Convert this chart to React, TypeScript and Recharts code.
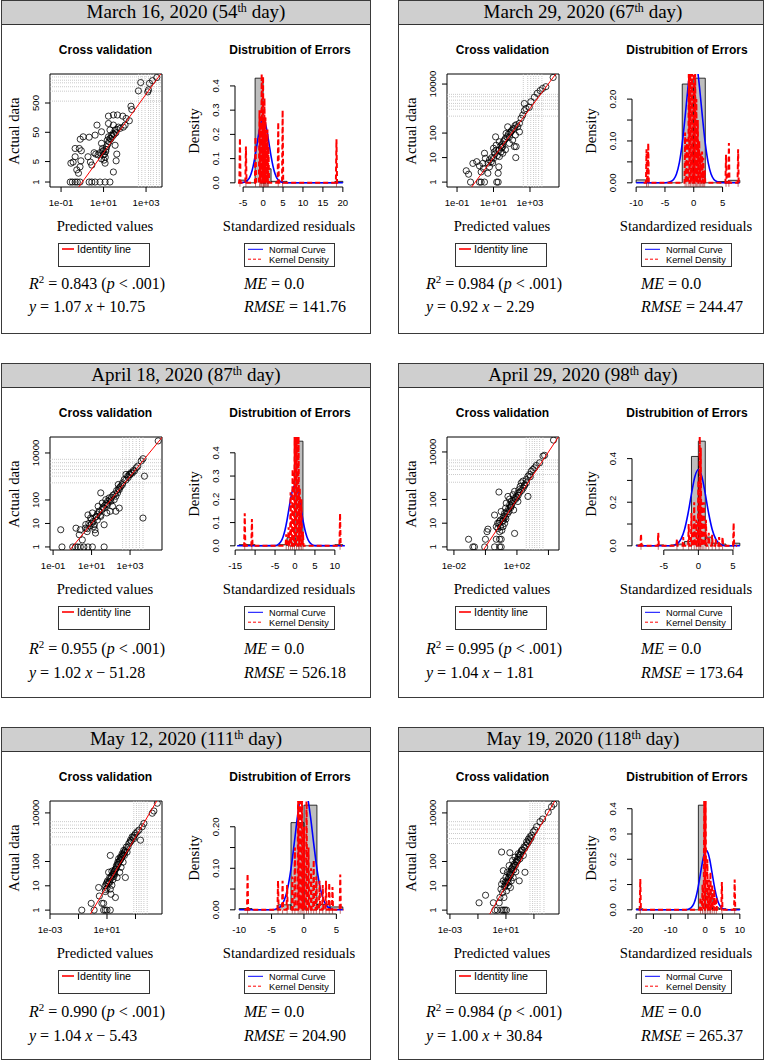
import React from "react";
import {
  ScatterChart,
  Scatter,
  ComposedChart,
  Area,
  Line,
  XAxis,
  YAxis,
  ReferenceLine,
  ReferenceArea,
} from "recharts";

type Pair = [number, number];
type Bin = [number, number, number];

const SANS = "'Liberation Sans', Arial, Helvetica, sans-serif";
const SERIF = "'Liberation Serif', 'Times New Roman', serif";

// ---- headers and statistics ----
const panelDates = ["March 16, 2020", "March 29, 2020", "April 18, 2020", "April 29, 2020", "May 12, 2020", "May 19, 2020"];
const panelDays = ["54", "67", "87", "98", "111", "118"];
const rSquared = [0.843, 0.984, 0.955, 0.995, 0.99, 0.984];
const slopes = [1.07, 0.92, 1.02, 1.04, 1.04, 1.0];
const intercepts = [10.75, -2.29, -51.28, -1.81, -5.43, 30.84];
const meanErrors = [0, 0, 0, 0, 0, 0];
const rmse = [141.76, 244.47, 526.18, 173.64, 204.9, 265.37];

// ---- cross validation: [predicted, actual] ----
const mar16Points: Pair[] = [
  [0.27, 1], [0.34, 1], [0.46, 1], [0.58, 1], [0.78, 1], [2.1, 1], [2.8, 1], [4, 1], [6.8, 1], [11.8, 1], [20, 1],
  [0.29, 4.4], [0.37, 4.8], [0.46, 7.3], [0.55, 2.6], [0.66, 2], [0.78, 3.3], [0.86, 5.3], [0.46, 14], [0.72, 14], [0.9, 11.7], [0.8, 29], [1.1, 35],
  [1.85, 7.3], [2.4, 4.8], [2.8, 3.8], [3.6, 10], [4.3, 9], [5.5, 8.5], [6.8, 10], [2.1, 34], [4, 40], [4.9, 88], [8, 52], [8, 21], [9, 14], [9.7, 8.5], [10.5, 5.6], [11.8, 4.4], [8, 6.2],
  [12.7, 11], [14, 16], [15, 27], [17, 35], [20, 60], [17, 100], [29, 88], [17, 178], [29, 195], [20, 31], [24, 40], [29, 46], [35, 18], [42, 9], [39, 5.3], [29, 2.2],
  [35, 60], [42, 63], [50, 75], [60, 68], [45, 195], [80, 178], [85, 75], [103, 88], [115, 148], [163, 124], [195, 390], [212, 300],
  [437, 1300], [560, 2500], [1200, 1200], [1450, 2350], [1300, 1400], [3200, 3700], [2000, 2900],
  [10, 12], [11, 9], [13, 13], [12, 7], [9, 11], [16, 20], [18, 24], [22, 30], [26, 36], [31, 42], [38, 48],
];
const mar29Points: Pair[] = [
  [0.32, 2.9], [0.43, 2.1], [0.55, 1], [0.74, 5.8], [1.2, 6.8], [1.7, 4.6], [2.1, 2.6], [2.6, 5.8], [1.7, 1], [2.1, 1], [3.2, 1], [15, 1], [18, 1],
  [4.9, 2.3], [2.8, 3.6], [3.2, 15], [3.6, 9.3], [6, 4.2], [7.5, 6.8], [10, 9.3], [11, 17], [10, 24], [14, 32], [18, 2.3], [19.5, 4.2], [21, 11], [26, 17],
  [13, 70], [21, 44], [32, 28], [40, 52], [49, 97], [60, 180], [74, 70], [74, 38], [91, 112], [112, 52], [140, 28], [158, 83], [166, 10], [174, 28],
  [213, 180], [263, 250], [324, 400], [140, 155], [32, 15], [45, 21], [263, 112], [400, 540], [490, 820], [600, 1000], [490, 1600], [910, 1120],
  [1120, 1900], [1740, 2900], [3600, 5400], [4900, 6600], [7400, 7800], [18600, 18600], [2500, 4200],
  [20, 20], [25, 30], [30, 35], [35, 45], [45, 60], [55, 70], [65, 90], [80, 100], [100, 130], [120, 150], [150, 200], [180, 220],
  [12, 14], [16, 12], [8, 10], [6, 8], [5, 6], [9, 6], [14, 20], [28, 25],
];
const apr18Points: Pair[] = [
  [0.25, 5.4], [0.29, 1], [1.05, 1], [1.45, 1], [1.9, 1], [2.6, 1], [4, 1], [6.5, 1], [11, 1], [45, 1],
  [1.55, 6.3], [2.6, 5.4], [2.3, 3.3], [3.3, 2], [4.8, 6.3], [5.9, 4.5], [7.2, 10], [8.9, 17], [6.5, 23], [11, 28], [13, 7.4], [16, 3.9], [15, 5.4],
  [20, 14], [24, 33], [22, 54], [30, 200], [36, 74], [30, 20], [45, 45], [55, 103], [62, 28], [67, 63], [82, 122], [45, 8.8], [92, 33], [122, 54],
  [100, 88], [150, 103], [183, 144], [224, 200], [275, 275], [245, 455], [183, 33], [275, 45], [338, 390], [410, 535], [500, 740], [616, 1230],
  [760, 1030], [920, 1230], [1130, 1440], [1690, 1690], [2090, 2340], [2530, 2760], [3800, 4570], [4700, 5700], [5600, 1030], [4700, 17], [29000, 32700],
  [10, 10], [12, 12], [15, 18], [18, 20], [25, 30], [35, 40], [40, 50], [50, 60], [60, 70], [70, 90], [90, 100], [110, 130], [130, 160], [160, 180],
  [200, 250], [250, 300], [300, 350], [8, 8], [6, 6], [5, 9], [10, 15], [14, 9], [20, 25], [28, 22], [400, 450], [600, 700], [800, 900], [1000, 1200],
  [1300, 1400], [1500, 1800],
];
const apr29Points: Pair[] = [
  [0.085, 2.1], [0.16, 1], [0.2, 1], [0.9, 1], [1, 2.1], [1.26, 4.4], [1.44, 5.6], [3.8, 1], [7.9, 1], [10, 1], [4.9, 2.1], [7.9, 2.1], [10, 2.1],
  [3.8, 22], [4.9, 7.1], [6.2, 6], [7.2, 9.8], [7.9, 4.4], [9.1, 13.6], [10, 31], [7.2, 205], [13, 16], [13, 7.1], [16.5, 9.8], [16.5, 26], [19, 43],
  [21, 70], [27, 134], [31, 31], [38, 50], [34, 103], [44, 82], [56, 158], [71, 3.7], [62, 36], [71, 219], [91, 134], [115, 186], [134, 257], [115, 82],
  [162, 355], [190, 500], [240, 590], [310, 420], [390, 690], [500, 134], [500, 950], [630, 1120], [810, 1550], [1040, 1830], [1320, 2150], [1700, 2700],
  [2750, 3500], [4500, 6700], [5700, 7200], [21000, 31500],
  [12, 12], [15, 20], [18, 18], [22, 30], [25, 25], [30, 40], [35, 60], [40, 45], [50, 70], [60, 90], [80, 100], [100, 120], [120, 150], [150, 200],
  [200, 240], [250, 300], [300, 380], [8, 12], [6, 10], [9, 7], [11, 5], [14, 13], [20, 15], [45, 55], [70, 110], [400, 500], [700, 900],
];
const may12Points: Pair[] = [
  [0.17, 1], [0.78, 1.9], [1.25, 1], [2.6, 8.5], [2.9, 3.8], [4.4, 1.9], [5.8, 1], [7.6, 1], [10, 1], [17, 1], [5.8, 1.9], [7.6, 5.8], [7.6, 10],
  [10, 13.8], [13, 36], [15.5, 22], [17, 7.3], [19, 4.5], [22, 10.6], [26, 18], [29.5, 31], [39, 3.3], [39, 49], [46, 68], [51, 22], [57, 94], [66, 130],
  [78, 36], [87, 150], [97, 58], [17, 178], [115, 209], [135, 94], [150, 288], [195, 22], [166, 178], [228, 395], [256, 245], [336, 545], [442, 755],
  [580, 1030], [760, 875], [1000, 1420], [1310, 1660], [1740, 1960], [2240, 755], [2950, 2700], [3900, 3700], [15000, 9700], [19500, 12000], [34000, 25000],
  [12, 12], [14, 15], [18, 20], [20, 25], [24, 28], [28, 35], [33, 40], [36, 45], [42, 50], [48, 60], [55, 75], [62, 80], [70, 100], [80, 110], [90, 120],
  [100, 140], [110, 160], [125, 180], [140, 200], [160, 230], [180, 260], [200, 300], [10, 8], [8, 7], [11, 16], [16, 14], [30, 24], [9, 12], [22, 40],
  [35, 30], [300, 400], [400, 600], [500, 700], [700, 1000], [850, 1200],
];
const may19Points: Pair[] = [
  [0.12, 2], [0.35, 4.1], [1.26, 2], [1.6, 1], [2.4, 1], [4.9, 1], [6.5, 1], [8.5, 1], [11, 1], [3.3, 2], [3.7, 3.3], [4.4, 7.3], [4.9, 11.7], [5.8, 5.3],
  [6.5, 16], [6.5, 42], [7.2, 3.3], [8.5, 10], [10, 22], [11, 6.2], [12.6, 36], [14.7, 13.8], [17, 68], [19, 26], [21, 8.5], [25, 49], [30, 110], [33, 22],
  [37, 68], [44, 151], [51, 38], [58, 94], [76, 209], [89, 16], [100, 129], [132, 288], [174, 178], [195, 395], [229, 36], [269, 465], [300, 645], [400, 830],
  [515, 1030], [675, 1200], [890, 1660], [1170, 1960], [1550, 2700], [2700, 4360], [4200, 5600], [10500, 10700], [18000, 18000], [27000, 23000], [4.9, 245], [19, 230],
  [8, 9], [9, 14], [10, 12], [12, 15], [14, 18], [16, 22], [18, 30], [20, 35], [22, 28], [26, 40], [28, 55], [32, 60], [36, 45], [40, 80], [48, 70], [55, 100],
  [62, 120], [70, 110], [80, 150], [90, 180], [110, 200], [120, 250], [150, 300], [220, 350], [350, 550], [450, 700], [600, 900], [15, 10], [24, 16],
];

// dotted guide lines in the cross-validation plots
const mar16GridX = [440, 630, 900, 1300, 1650, 2200, 3100, 4200];
const mar16GridY = [580, 1270, 1800, 2450, 3000, 3900];
const mar29GridX = [430, 750, 1100, 1570, 2100, 2970, 4500];
const mar29GridY = [490, 930, 1260, 1620, 2200, 3030, 3800];
const apr18GridX = [410, 620, 920, 1380, 2090, 3100, 4700];
const apr18GridY = [535, 1030, 1430, 1990, 2770, 3860, 5370];
const apr29GridX = [390, 630, 930, 1320, 1860, 2750, 4470];
const apr29GridY = [530, 1120, 1820, 2530, 3530, 4570];
const may12GridX = [760, 1170, 1740, 2510, 3890, 6620];
const may12GridY = [490, 1030, 1560, 2290, 3160, 4370];
const may19GridX = [520, 800, 1170, 1740, 2700, 5200];
const may19GridY = [550, 880, 1420, 2150, 3160, 4370];

// axis ticks of the cross-validation plots
const xTicksWide = [0.1, 10, 1000];
const xLabelsWide = ["1e-01", "1e+01", "1e+03"];
const xTicksApr29 = [0.01, 1, 100, 10000];
const xLabelsApr29 = ["1e-02", "", "1e+02", ""];
const xTicksMay = [0.001, 0.1, 10, 1000];
const xLabelsMay = ["1e-03", "", "1e+01", ""];
const yTicksMar16 = [1, 5, 50, 500];
const yLabelsMar16 = ["1", "5", "50", "500"];
const yTicksDecades = [1, 10, 100, 10000];
const yLabelsDecades = ["1", "10", "100", "10000"];
const identityEnds = [0.0001, 1000000];

// ---- distribution of errors: histogram bins [from, to, density] ----
const mar16Bins: Bin[] = [
  [-6, -4, 0.011], [-4, -2, 0], [-2, 0, 0.432], [0, 2, 0.058], [2, 4, 0.006], [4, 6, 0.006], [6, 8, 0],
  [8, 10, 0], [10, 12, 0], [12, 14, 0], [14, 16, 0], [16, 18, 0], [18, 20, 0.006],
];
const mar29Bins: Bin[] = [
  [-10, -8, 0.007], [-8, -6, 0], [-6, -4, 0], [-4, -2, 0], [-2, 0, 0.236], [0, 2, 0.25], [2, 4, 0], [4, 6, 0.003], [6, 8, 0.006],
];
const apr18Bins: Bin[] = [
  [-14, -12, 0.005], [-12, -10, 0.005], [-10, -8, 0], [-8, -6, 0], [-6, -4, 0], [-4, -2, 0.005], [-2, 0, 0.035],
  [0, 2, 0.45], [2, 4, 0], [4, 6, 0], [6, 8, 0], [8, 10, 0], [10, 12, 0.005],
];
const apr29Bins: Bin[] = [
  [-9, -8, 0.004], [-8, -7, 0], [-7, -6, 0], [-6, -5, 0.004], [-5, -4, 0], [-4, -3, 0.004], [-3, -2, 0.008], [-2, -1, 0.02],
  [-1, 0, 0.41], [0, 1, 0.48], [1, 2, 0.04], [2, 3, 0.012], [3, 4, 0.008], [4, 5, 0], [5, 6, 0.012],
];
const may12Bins: Bin[] = [
  [-10, -8, 0.003], [-8, -6, 0], [-6, -4, 0], [-4, -2, 0.012], [-2, 0, 0.21], [0, 2, 0.252], [2, 4, 0.013], [4, 6, 0.007],
];
const may19Bins: Bin[] = [
  [-20, -18, 0.004], [-18, -16, 0], [-16, -14, 0], [-14, -12, 0], [-12, -10, 0], [-10, -8, 0], [-8, -6, 0], [-6, -4, 0],
  [-4, -2, 0], [-2, 0, 0.414], [0, 2, 0.066], [2, 4, 0.008], [4, 6, 0.004], [6, 8, 0], [8, 10, 0.004],
];

// normal curves [residual, density]
const mar16Normal: Pair[] = [
  [-5.7, 0], [-5, 0.001], [-4, 0.009], [-3.5, 0.018], [-3, 0.037], [-2.5, 0.068], [-2, 0.11], [-1.5, 0.161], [-1, 0.212], [-0.5, 0.25],
  [0, 0.264], [0.5, 0.25], [1, 0.212], [1.5, 0.161], [2, 0.11], [2.5, 0.068], [3, 0.037], [3.5, 0.018], [4, 0.009], [5, 0.001], [6, 0], [20, 0],
];
const mar29Normal: Pair[] = [
  [-10, 0], [-5, 0], [-4, 0.003], [-3.5, 0.008], [-3, 0.021], [-2.5, 0.048], [-2, 0.094], [-1.5, 0.158], [-1, 0.228], [-0.5, 0.285],
  [0, 0.307], [0.5, 0.285], [1, 0.228], [1.5, 0.158], [2, 0.094], [2.5, 0.048], [3, 0.021], [3.5, 0.008], [4, 0.003], [5, 0], [8, 0],
];
const apr18Normal: Pair[] = [
  [-14.5, 0], [-5, 0.001], [-4, 0.009], [-3.5, 0.019], [-3, 0.038], [-2.5, 0.068], [-2, 0.11], [-1.5, 0.161], [-1, 0.21], [-0.5, 0.247],
  [0, 0.26], [0.5, 0.247], [1, 0.21], [1.5, 0.161], [2, 0.11], [2.5, 0.068], [3, 0.038], [3.5, 0.019], [4, 0.009], [5, 0.001], [12.5, 0],
];
const apr29Normal: Pair[] = [
  [-9, 0], [-4, 0], [-3.5, 0.003], [-3, 0.011], [-2.5, 0.032], [-2, 0.075], [-1.5, 0.147], [-1, 0.238], [-0.5, 0.318],
  [0, 0.35], [0.5, 0.318], [1, 0.238], [1.5, 0.147], [2, 0.075], [2.5, 0.032], [3, 0.011], [3.5, 0.003], [4, 0], [6, 0],
];
const may12Normal: Pair[] = [
  [-10, 0], [-5, 0], [-4, 0.004], [-3.5, 0.01], [-3, 0.025], [-2.5, 0.053], [-2, 0.099], [-1.5, 0.16], [-1, 0.225], [-0.5, 0.276],
  [0, 0.296], [0.5, 0.276], [1, 0.225], [1.5, 0.16], [2, 0.099], [2.5, 0.053], [3, 0.025], [3.5, 0.01], [4, 0.004], [5, 0], [6, 0],
];
const may19Normal: Pair[] = [
  [-20, 0], [-5.7, 0], [-4.7, 0.003], [-3.7, 0.015], [-3.2, 0.028], [-2.7, 0.05], [-2.2, 0.08], [-1.7, 0.118], [-1.2, 0.159], [-0.7, 0.198],
  [-0.2, 0.225], [0.3, 0.235], [0.8, 0.225], [1.3, 0.198], [1.8, 0.159], [2.3, 0.118], [2.8, 0.08], [3.3, 0.05], [3.8, 0.028], [4.3, 0.015],
  [5.3, 0.003], [6.3, 0], [10, 0],
];

// kernel density peaks [residual, peak height]
const mar16Spikes: Pair[] = [
  [-5.8, 0.185], [-4.3, 0.15], [-1.9, 0.19], [-0.9, 0.3], [-0.6, 0.25], [-0.35, 0.45], [0, 0.44], [0.15, 0.26], [0.35, 0.35],
  [0.6, 0.27], [0.9, 0.2], [1.1, 0.22], [1.35, 0.15], [3.8, 0.25], [4.9, 0.3], [18.4, 0.18],
];
const mar29Spikes: Pair[] = [
  [-8.2, 0.08], [-7.9, 0.095], [-1.5, 0.12], [-1.2, 0.105], [-0.85, 0.3], [-0.6, 0.3], [-0.3, 0.28], [0, 0.3], [0.25, 0.26], [0.45, 0.2],
  [0.7, 0.15], [0.95, 0.1], [1.2, 0.07], [1.45, 0.075], [1.65, 0.06], [1.9, 0.03], [5.6, 0.067], [6.1, 0.095], [7.7, 0.08],
];
const apr18Spikes: Pair[] = [
  [-12.6, 0.14], [-10.8, 0.115], [-2.2, 0.05], [-1.6, 0.08], [-1.1, 0.23], [-0.6, 0.33], [-0.1, 0.47], [0.4, 0.47], [0.9, 0.47],
  [1.2, 0.25], [1.6, 0.2], [2.0, 0.06], [11.3, 0.14],
];
const apr29Spikes: Pair[] = [
  [-8.3, 0.055], [-5.8, 0.06], [-3.1, 0.03], [-2.2, 0.04], [-1.4, 0.1], [-1, 0.15], [-0.6, 0.2], [-0.3, 0.12], [0, 0.3], [0.2, 0.52],
  [0.35, 0.45], [0.55, 0.2], [0.8, 0.2], [1.1, 0.12], [1.5, 0.06], [2, 0.05], [2.5, 0.03], [3, 0.04], [3.5, 0.04], [5.1, 0.105],
];
const may12Spikes: Pair[] = [
  [-8.7, 0.087], [-4, 0.07], [-3.3, 0.07], [-2.6, 0.06], [-1.8, 0.08], [-1.4, 0.15], [-0.9, 0.3], [-0.6, 0.3], [-0.3, 0.3], [0, 0.2],
  [0.4, 0.3], [0.7, 0.15], [1.1, 0.1], [1.5, 0.12], [1.9, 0.08], [2.4, 0.07], [2.9, 0.06], [3.4, 0.07], [3.9, 0.065], [4.4, 0.055], [5.6, 0.085],
];
const may19Spikes: Pair[] = [
  [-18.8, 0.122], [-1.4, 0.05], [-0.8, 0.1], [-0.3, 0.45], [0.1, 0.45], [0.6, 0.2], [1.1, 0.12], [1.5, 0.15], [2, 0.1], [2.6, 0.08],
  [3.2, 0.05], [4.8, 0.11], [8.5, 0.12],
];

// histogram axis ticks
const hxTicksMar16 = [-5, 0, 5, 10, 15, 20];
const hxLabelsMar16 = ["-5", "0", "5", "10", "15", "20"];
const hxTicksTen = [-10, -5, 0, 5];
const hxLabelsTen = ["-10", "-5", "0", "5"];
const hxTicksApr18 = [-15, -10, -5, 0, 5, 10];
const hxLabelsApr18 = ["-15", "", "-5", "0", "5", "10"];
const hxTicksApr29 = [-5, 0, 5];
const hxLabelsApr29 = ["-5", "0", "5"];
const hxTicksMay19 = [-20, -15, -10, -5, 0, 5, 10];
const hxLabelsMay19 = ["-20", "", "-10", "", "0", "5", "10"];
const hyTicksTenths = [0, 0.1, 0.2, 0.3, 0.4];
const hyLabelsTenths = ["0.0", "0.1", "0.2", "0.3", "0.4"];
const hyLabelsFifths = ["0.0", "", "0.2", "", "0.4"];
const hyTicksHalfTenths = [0, 0.05, 0.1, 0.15, 0.2];
const hyLabelsHalfTenths = ["0.00", "", "0.10", "", "0.20"];

interface PanelCfg {
  points: Pair[]; gridX: number[]; gridY: number[];
  xExp: Pair; yExp: Pair;
  xTicks: number[]; xLabels: string[]; yTicks: number[]; yLabels: string[];
  bins: Bin[]; normal: Pair[]; spikes: Pair[]; spikeHalf: number;
  hxTicks: number[]; hxLabels: string[]; hyTicks: number[]; hyLabels: string[];
}

const panels: PanelCfg[] = [
  { points: mar16Points, gridX: mar16GridX, gridY: mar16GridY, xExp: [-1.52, 3.75], yExp: [-0.17, 3.69],
    xTicks: xTicksWide, xLabels: xLabelsWide, yTicks: yTicksMar16, yLabels: yLabelsMar16,
    bins: mar16Bins, normal: mar16Normal, spikes: mar16Spikes, spikeHalf: 0.15,
    hxTicks: hxTicksMar16, hxLabels: hxLabelsMar16, hyTicks: hyTicksTenths, hyLabels: hyLabelsTenths },
  { points: mar29Points, gridX: mar29GridX, gridY: mar29GridY, xExp: [-1.55, 4.59], yExp: [-0.2, 4.41],
    xTicks: xTicksWide, xLabels: xLabelsWide, yTicks: yTicksDecades, yLabels: yLabelsDecades,
    bins: mar29Bins, normal: mar29Normal, spikes: mar29Spikes, spikeHalf: 0.1,
    hxTicks: hxTicksTen, hxLabels: hxLabelsTen, hyTicks: hyTicksHalfTenths, hyLabels: hyLabelsHalfTenths },
  { points: apr18Points, gridX: apr18GridX, gridY: apr18GridY, xExp: [-1.16, 4.66], yExp: [-0.13, 4.68],
    xTicks: xTicksWide, xLabels: xLabelsWide, yTicks: yTicksDecades, yLabels: yLabelsDecades,
    bins: apr18Bins, normal: apr18Normal, spikes: apr18Spikes, spikeHalf: 0.15,
    hxTicks: hxTicksApr18, hxLabels: hxLabelsApr18, hyTicks: hyTicksTenths, hyLabels: hyLabelsTenths },
  { points: apr29Points, gridX: apr29GridX, gridY: apr29GridY, xExp: [-2.44, 4.67], yExp: [-0.13, 4.63],
    xTicks: xTicksApr29, xLabels: xLabelsApr29, yTicks: yTicksDecades, yLabels: yLabelsDecades,
    bins: apr29Bins, normal: apr29Normal, spikes: apr29Spikes, spikeHalf: 0.08,
    hxTicks: hxTicksApr29, hxLabels: hxLabelsApr29, hyTicks: hyTicksTenths, hyLabels: hyLabelsFifths },
  { points: may12Points, gridX: may12GridX, gridY: may12GridY, xExp: [-3.0, 4.86], yExp: [-0.16, 4.49],
    xTicks: xTicksMay, xLabels: xLabelsMay, yTicks: yTicksDecades, yLabels: yLabelsDecades,
    bins: may12Bins, normal: may12Normal, spikes: may12Spikes, spikeHalf: 0.09,
    hxTicks: hxTicksTen, hxLabels: hxLabelsTen, hyTicks: hyTicksHalfTenths, hyLabels: hyLabelsHalfTenths },
  { points: may19Points, gridX: may19GridX, gridY: may19GridY, xExp: [-3.21, 4.79], yExp: [-0.16, 4.49],
    xTicks: xTicksMay, xLabels: xLabelsMay, yTicks: yTicksDecades, yLabels: yLabelsDecades,
    bins: may19Bins, normal: may19Normal, spikes: may19Spikes, spikeHalf: 0.17,
    hxTicks: hxTicksMay19, hxLabels: hxLabelsMay19, hyTicks: hyTicksTenths, hyLabels: hyLabelsTenths },
];

// where each framed panel sits on the page
const panelBoxes = [
  { left: 1, top: 0, width: 370, height: 334, f1: 285, f2: 308 },
  { left: 398, top: 0, width: 366, height: 334, f1: 285, f2: 308 },
  { left: 1, top: 363, width: 370, height: 335, f1: 287, f2: 311 },
  { left: 398, top: 363, width: 366, height: 335, f1: 287, f2: 311 },
  { left: 1, top: 727, width: 370, height: 333, f1: 285.5, f2: 309.5 },
  { left: 398, top: 727, width: 366, height: 333, f1: 285.5, f2: 309.5 },
];

const CHART_MARGIN = { top: 74, right: 24, bottom: 3, left: 19 };

function labelFor(ticks: number[], labels: string[], v: number) {
  const i = ticks.indexOf(v);
  return i >= 0 ? labels[i] : "";
}

function rotatedTick(ticks: number[], labels: string[], shift: number) {
  return (p: any) => {
    const s = labelFor(ticks, labels, p.payload.value);
    const x = p.x - shift;
    return (
      <text x={x} y={p.y} transform={`rotate(-90 ${x} ${p.y})`} textAnchor="middle"
        fontSize={9.6} fontFamily={SANS} fill="#000">{s}</text>
    );
  };
}

const openCircle = (p: any) => (
  <circle cx={p.cx} cy={p.cy} r={3.1} fill="none" stroke="#000" strokeWidth={0.8} />
);
const noShape = () => <g />;
const rugMark = (p: any) => (
  <line x1={p.cx} x2={p.cx} y1={p.cy} y2={p.cy + 4} stroke="rgba(140,0,0,0.55)" strokeWidth={1} />
);

function kernelPath(spikes: Pair[], half: number) {
  const s = [...spikes].sort((a, b) => a[0] - b[0]);
  const out = [{ x: s[0][0] - 0.5, y: 0 }];
  for (const [x, h] of s) out.push({ x: x - half, y: 0 }, { x, y: h }, { x: x + half, y: 0 });
  out.push({ x: s[s.length - 1][0] + 0.5, y: 0 });
  return out;
}

function CrossValidation({ c }: { c: PanelCfg }) {
  const xDom: Pair = [10 ** c.xExp[0], 10 ** c.xExp[1]];
  const yDom: Pair = [10 ** c.yExp[0], 10 ** c.yExp[1]];
  const pts = c.points.map(([x, y]) => ({ x, y }));
  const identity = identityEnds.map((v) => ({ x: v, y: v }));
  return (
    <ScatterChart width={185} height={215} margin={CHART_MARGIN}>
      <XAxis type="number" dataKey="x" scale="log" domain={xDom} allowDataOverflow ticks={c.xTicks} interval={0}
        tickFormatter={(v: number) => labelFor(c.xTicks, c.xLabels, v)} axisLine={false}
        tickLine={{ stroke: "#000" }} tickSize={5} tickMargin={7} height={25}
        tick={{ fontSize: 9.6, fill: "#000", fontFamily: SANS }} />
      <YAxis type="number" dataKey="y" scale="log" domain={yDom} allowDataOverflow ticks={c.yTicks} interval={0}
        axisLine={false} tickLine={{ stroke: "#000" }} tickSize={5} width={30}
        tick={rotatedTick(c.yTicks, c.yLabels, 3.5)} />
      {c.gridX.map((v) => (
        <ReferenceLine key={`gx${v}`} x={v} stroke="#bdbdbd" strokeDasharray="1 1" strokeWidth={0.8} />
      ))}
      {c.gridY.map((v) => (
        <ReferenceLine key={`gy${v}`} y={v} stroke="#bdbdbd" strokeDasharray="1 1" strokeWidth={0.8} />
      ))}
      <ReferenceArea x1={xDom[0]} x2={xDom[1]} y1={yDom[0]} y2={yDom[1]} fill="none" fillOpacity={0}
        stroke="#000" strokeWidth={1} ifOverflow="visible" />
      <Scatter data={pts} shape={openCircle} isAnimationActive={false} />
      <Scatter data={identity} line={{ stroke: "#ff0000", strokeWidth: 1 }} shape={noShape} isAnimationActive={false} />
    </ScatterChart>
  );
}

function ErrorDistribution({ c }: { c: PanelCfg }) {
  const lo = c.bins[0][0];
  const hi = c.bins[c.bins.length - 1][1];
  const pad = 0.04 * (hi - lo);
  const xDom: Pair = [lo - pad, hi + pad];
  const top = Math.max(...c.bins.map((b) => b[2]));
  const yDom: Pair = [-0.04 * top, 1.04 * top];
  const bars = c.bins.flatMap(([a, b, d]) => [{ x: a, y: 0 }, { x: a, y: d }, { x: b, y: d }, { x: b, y: 0 }]);
  const normal = c.normal.map(([x, y]) => ({ x, y }));
  const kernel = kernelPath(c.spikes, c.spikeHalf);
  const rug = c.spikes.map(([x]) => ({ x, y: 0 }));
  const lastY = c.hyTicks[c.hyTicks.length - 1];
  return (
    <ComposedChart width={185} height={215} margin={CHART_MARGIN}>
      <XAxis type="number" dataKey="x" domain={xDom} allowDataOverflow ticks={c.hxTicks} interval={0}
        tickFormatter={(v: number) => labelFor(c.hxTicks, c.hxLabels, v)} axisLine={false}
        tickLine={{ stroke: "#000" }} tickSize={5} tickMargin={7} height={25}
        tick={{ fontSize: 9.6, fill: "#000", fontFamily: SANS }} />
      <YAxis type="number" dataKey="y" domain={yDom} allowDataOverflow ticks={c.hyTicks} interval={0}
        axisLine={false} tickLine={{ stroke: "#000" }} tickSize={5} width={30}
        tick={rotatedTick(c.hyTicks, c.hyLabels, 9.4)} />
      <Area data={bars} dataKey="y" type="linear" baseValue={0} fill="#bebebe" fillOpacity={1}
        stroke="#000" strokeWidth={0.8} dot={false} activeDot={false} isAnimationActive={false} />
      <Line data={normal} dataKey="y" type="monotone" stroke="#0000ff" strokeWidth={1.6}
        dot={false} activeDot={false} isAnimationActive={false} />
      <Line data={kernel} dataKey="y" type="linear" stroke="#ff0000" strokeWidth={2} strokeDasharray="5 3"
        dot={false} activeDot={false} isAnimationActive={false} />
      <Scatter data={rug} dataKey="y" shape={rugMark} isAnimationActive={false} />
      <ReferenceLine segment={[{ x: xDom[0], y: 0 }, { x: xDom[0], y: lastY }]} stroke="#000" strokeWidth={1} ifOverflow="visible" />
      <ReferenceLine segment={[{ x: c.hxTicks[0], y: yDom[0] }, { x: c.hxTicks[c.hxTicks.length - 1], y: yDom[0] }]}
        stroke="#000" strokeWidth={1} ifOverflow="visible" />
    </ComposedChart>
  );
}

const abs = (left: number, top: number): React.CSSProperties => ({ position: "absolute", left, top });

function CenteredText({ cx, cy, size, bold, serif, children, rotate }: any) {
  const w = 200;
  const lh = Math.round(size * 1.2);
  return (
    <div style={{
      ...abs(cx - w / 2, cy - lh / 2), width: w, height: lh, lineHeight: `${lh}px`, textAlign: "center",
      fontFamily: serif ? SERIF : SANS, fontSize: size, fontWeight: bold ? 700 : 400, whiteSpace: "nowrap",
      transform: rotate ? "rotate(-90deg)" : undefined, color: "#000",
    }}>{children}</div>
  );
}

function signed(v: number) {
  return v < 0 ? `\u2212 ${Math.abs(v).toFixed(2)}` : `+ ${v.toFixed(2)}`;
}

function Panel({ i }: { i: number }) {
  const c = panels[i];
  const b = panelBoxes[i];
  const mathStyle: React.CSSProperties = { fontFamily: SERIF, fontSize: 16, lineHeight: "18px", whiteSpace: "nowrap", color: "#000" };
  return (
    <div style={{ ...abs(b.left, b.top), width: b.width, height: b.height }}>
      <div style={{ ...abs(0, 0), width: b.width, height: 24.5, background: "#cfcfcf", borderBottom: "1.5px solid #333", boxSizing: "border-box" }} />
      <div style={{
        ...abs(85, 1), width: 200, height: 22, lineHeight: "22px", textAlign: "center", fontFamily: SERIF,
        fontSize: 19, whiteSpace: "nowrap", color: "#000",
      }}>
        {panelDates[i]} ({panelDays[i]}<span style={{ fontSize: 12, position: "relative", top: -6 }}>th</span> day)
      </div>

      <CenteredText cx={104.5} cy={49.5} size={12} bold>Cross validation</CenteredText>
      <CenteredText cx={289} cy={49.5} size={12} bold>Distrubition of Errors</CenteredText>

      <div style={abs(0, 0)}><CrossValidation c={c} /></div>
      <div style={abs(185, 0)}><ErrorDistribution c={c} /></div>

      <CenteredText cx={13} cy={130.5} size={14.7} serif rotate>Actual data</CenteredText>
      <CenteredText cx={192.5} cy={130.5} size={14.7} serif rotate>Density</CenteredText>
      <CenteredText cx={104} cy={226} size={14.7} serif>Predicted values</CenteredText>
      <CenteredText cx={288} cy={226} size={14.7} serif>Standardized residuals</CenteredText>

      <svg style={abs(57, 243)} width={92} height={24}>
        <rect x={0.5} y={0.5} width={91} height={23} fill="#fff" stroke="#333" strokeWidth={1} />
        <line x1={4} x2={16} y1={6} y2={6} stroke="#ff0000" strokeWidth={1.6} />
        <text x={19} y={10} fontFamily={SANS} fontSize={10.7} fill="#000">Identity line</text>
      </svg>
      <svg style={abs(243, 243)} width={91} height={24}>
        <rect x={0.5} y={0.5} width={90} height={23} fill="#fff" stroke="#333" strokeWidth={1} />
        <line x1={4} x2={19} y1={6.3} y2={6.3} stroke="#0000ff" strokeWidth={1} />
        <line x1={4} x2={19} y1={16.2} y2={16.2} stroke="#ff0000" strokeWidth={1} strokeDasharray="3 2" />
        <text x={25} y={9.6} fontFamily={SANS} fontSize={9.2} fill="#000">Normal Curve</text>
        <text x={25} y={20} fontFamily={SANS} fontSize={9.2} fill="#000">Kernel Density</text>
      </svg>

      <div style={{ ...abs(28, b.f1 - 10), ...mathStyle }}>
        <i>R</i><span style={{ fontSize: 11, position: "relative", top: -6 }}>2</span> = {rSquared[i].toFixed(3)} (<i>p</i> &lt; .001)
      </div>
      <div style={{ ...abs(28, b.f2 - 10), ...mathStyle }}>
        <i>y</i> = {slopes[i].toFixed(2)} <i>x</i> {signed(intercepts[i])}
      </div>
      <div style={{ ...abs(243, b.f1 - 10), ...mathStyle }}>
        <i>ME</i> = {meanErrors[i].toFixed(1)}
      </div>
      <div style={{ ...abs(243, b.f2 - 10), ...mathStyle }}>
        <i>RMSE</i> = {rmse[i].toFixed(2)}
      </div>

      <div style={{ ...abs(0, 0), width: b.width, height: b.height, border: "1.5px solid #3a3a3a", boxSizing: "border-box", pointerEvents: "none" }} />
    </div>
  );
}

export default function App() {
  return (
    <div style={{ position: "absolute", left: 0, top: 0, width: 769, height: 1061, background: "#fff", overflow: "hidden" }}>
      {panels.map((_, i) => (
        <Panel key={i} i={i} />
      ))}
    </div>
  );
}
